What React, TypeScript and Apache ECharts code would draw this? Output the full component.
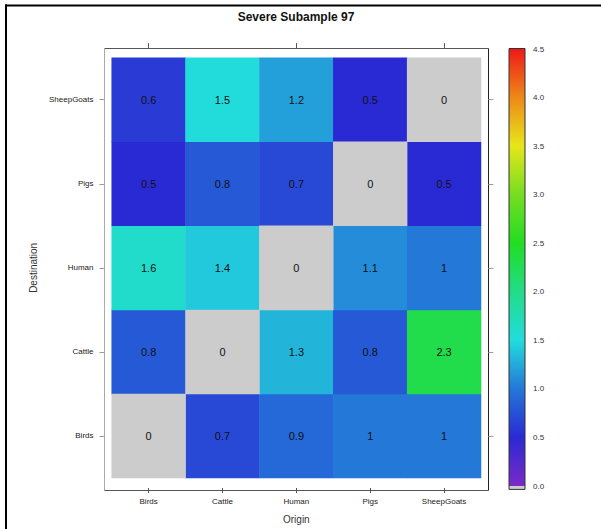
import React, { useEffect, useRef } from "react";
import * as echarts from "echarts";

const titleText = "Severe Subample 97";
const origins = ["Birds", "Cattle", "Human", "Pigs", "SheepGoats"];
const destinations = ["Birds", "Cattle", "Human", "Pigs", "SheepGoats"];

// values per destination row, columns follow origins
const birdsRow = [0, 0.7, 0.9, 1, 1];
const cattleRow = [0.8, 0, 1.3, 0.8, 2.3];
const humanRow = [1.6, 1.4, 0, 1.1, 1];
const pigsRow = [0.5, 0.8, 0.7, 0, 0.5];
const sheepGoatsRow = [0.6, 1.5, 1.2, 0.5, 0];
const rows = [birdsRow, cattleRow, humanRow, pigsRow, sheepGoatsRow];

const scaleMin = 0;
const scaleMax = 4.5;
const scaleStep = 0.5;
const palette = [
  "#7a2ac8",
  "#2a2ad4",
  "#2478d8",
  "#22dcdc",
  "#22dc88",
  "#22dd22",
  "#77dd22",
  "#e6e61a",
  "#ee8818",
  "#ee1818",
];
const zeroColor = "#cccccc";

const FONT = "'Liberation Sans', Arial, Helvetica, sans-serif";

export default function App() {
  const ref = useRef<HTMLDivElement>(null);

  useEffect(() => {
    if (!ref.current) return;
    const chart = echarts.init(ref.current, undefined, { renderer: "svg" });

    const nonZero: any[] = [];
    const zeros: any[] = [];
    rows.forEach((row, yi) => {
      row.forEach((v, xi) => {
        if (v === 0) zeros.push([xi, yi, v]);
        else nonZero.push([xi, yi, v]);
      });
    });

    const gridL = 111.7;
    const gridT = 57.7;
    const gridW = 369.3;
    const gridH = 422.3;
    const frameL = 104.5;
    const frameR = 488.5;
    const frameT = 48.5;
    const frameB = 490.5;

    const labelStyle = {
      show: true,
      fontSize: 11,
      color: "#111",
      fontFamily: FONT,
      formatter: (p: any) => String(p.value[2]),
    };

    const option: any = {
      animation: false,
      grid: [
        { left: gridL, top: gridT, width: gridW, height: gridH },
        { left: 509, top: 49, width: 16, height: 437 },
      ],
      xAxis: [
        {
          type: "category",
          gridIndex: 0,
          data: origins,
          position: "bottom",
          offset: 10,
          axisLine: { show: false },
          axisTick: { show: true, alignWithLabel: true, length: 5, lineStyle: { color: "#555" } },
          axisLabel: { fontSize: 8, color: "#222", margin: 9, fontFamily: FONT },
          splitLine: { show: false },
          name: "Origin",
          nameLocation: "middle",
          nameGap: 26,
          nameTextStyle: { fontSize: 10, color: "#333", fontFamily: FONT },
        },
        {
          type: "category",
          gridIndex: 0,
          data: origins,
          position: "top",
          offset: 9.6,
          axisLine: { show: false },
          axisTick: { show: true, alignWithLabel: true, length: 5, lineStyle: { color: "#555" } },
          axisLabel: { show: false },
          splitLine: { show: false },
        },
        { type: "value", gridIndex: 1, min: 0, max: 1, show: false },
      ],
      yAxis: [
        {
          type: "category",
          gridIndex: 0,
          data: destinations,
          position: "left",
          offset: 7.2,
          axisLine: { show: false },
          axisTick: { show: true, alignWithLabel: true, length: 5, lineStyle: { color: "#999" } },
          axisLabel: { fontSize: 8, color: "#222", margin: 11, fontFamily: FONT },
          splitLine: { show: false },
          name: "Destination",
          nameLocation: "middle",
          nameGap: 66,
          nameTextStyle: { fontSize: 10, color: "#333", fontFamily: FONT },
        },
        {
          type: "category",
          gridIndex: 0,
          data: destinations,
          position: "right",
          offset: 7.3,
          axisLine: { show: false },
          axisTick: { show: true, alignWithLabel: true, length: 5, lineStyle: { color: "#999" } },
          axisLabel: { show: false },
          splitLine: { show: false },
        },
        {
          type: "value",
          gridIndex: 1,
          min: scaleMin,
          max: scaleMax,
          interval: scaleStep,
          position: "right",
          axisLine: { show: false },
          axisTick: { show: true, length: 4, lineStyle: { color: "#333" } },
          axisLabel: {
            fontSize: 8,
            color: "#333",
            margin: 8,
            fontFamily: FONT,
            formatter: (v: number) => v.toFixed(1),
          },
          splitLine: { show: false },
        },
      ],
      visualMap: [
        {
          type: "continuous",
          show: false,
          min: scaleMin,
          max: scaleMax,
          dimension: 2,
          seriesIndex: 0,
          inRange: { color: palette },
        },
        {
          type: "continuous",
          show: false,
          min: 0,
          max: 1,
          dimension: 2,
          seriesIndex: 1,
          inRange: { color: [zeroColor, zeroColor] },
        },
      ],
      series: [
        {
          type: "heatmap",
          xAxisIndex: 0,
          yAxisIndex: 0,
          data: nonZero,
          label: labelStyle,
          itemStyle: { borderWidth: 0 },
        },
        {
          type: "heatmap",
          xAxisIndex: 0,
          yAxisIndex: 0,
          data: zeros,
          label: labelStyle,
          itemStyle: { borderWidth: 0 },
        },
        {
          type: "custom",
          xAxisIndex: 2,
          yAxisIndex: 2,
          clip: false,
          data: [[scaleMin, scaleMax]],
          renderItem: (params: any, api: any) => {
            const tl = api.coord([0, scaleMax]);
            const br = api.coord([1, scaleMin]);
            const gb = api.coord([1, scaleMin - 0.035]);
            const w = br[0] - tl[0];
            const stops = palette.map((c, i) => ({ offset: i / (palette.length - 1), color: c }));
            return {
              type: "group",
              children: [
                {
                  type: "rect",
                  shape: { x: tl[0], y: tl[1] - 0.5, width: w, height: br[1] - tl[1] + 0.5 },
                  style: { fill: new echarts.graphic.LinearGradient(0, 1, 0, 0, stops) },
                },
                {
                  type: "rect",
                  shape: { x: tl[0], y: br[1], width: w, height: gb[1] - br[1] },
                  style: { fill: zeroColor },
                },
                {
                  type: "rect",
                  shape: { x: tl[0], y: tl[1] - 0.5, width: w, height: gb[1] - tl[1] + 0.5 },
                  style: { fill: "none", stroke: "#333", lineWidth: 1 },
                },
              ],
            };
          },
        },
      ],
      graphic: [
        {
          type: "text",
          x: 296,
          y: 17,
          style: {
            text: titleText,
            fontSize: 12,
            fontWeight: "bold",
            fill: "#111",
            fontFamily: FONT,
            textAlign: "center",
            textVerticalAlign: "middle",
          },
        },
        { type: "line", shape: { x1: frameL, y1: frameT, x2: frameR, y2: frameT }, style: { stroke: "#555", lineWidth: 1 } },
        { type: "line", shape: { x1: frameL, y1: frameT, x2: frameL, y2: frameB }, style: { stroke: "#aaa", lineWidth: 1 } },
        { type: "line", shape: { x1: frameR, y1: frameT, x2: frameR, y2: frameB }, style: { stroke: "#222", lineWidth: 1 } },
        { type: "line", shape: { x1: frameL, y1: frameB, x2: frameR, y2: frameB }, style: { stroke: "#555", lineWidth: 1 } },
        { type: "line", shape: { x1: 5, y1: 5.5, x2: 601, y2: 5.5 }, style: { stroke: "#000", lineWidth: 2 } },
        { type: "line", shape: { x1: 6, y1: 4.5, x2: 6, y2: 529 }, style: { stroke: "#000", lineWidth: 2 } },
      ],
    };

    chart.setOption(option);
    return () => chart.dispose();
  }, []);

  return (
    <div
      ref={ref}
      style={{ position: "absolute", left: 0, top: 0, width: 601, height: 529, background: "#fff" }}
    />
  );
}
